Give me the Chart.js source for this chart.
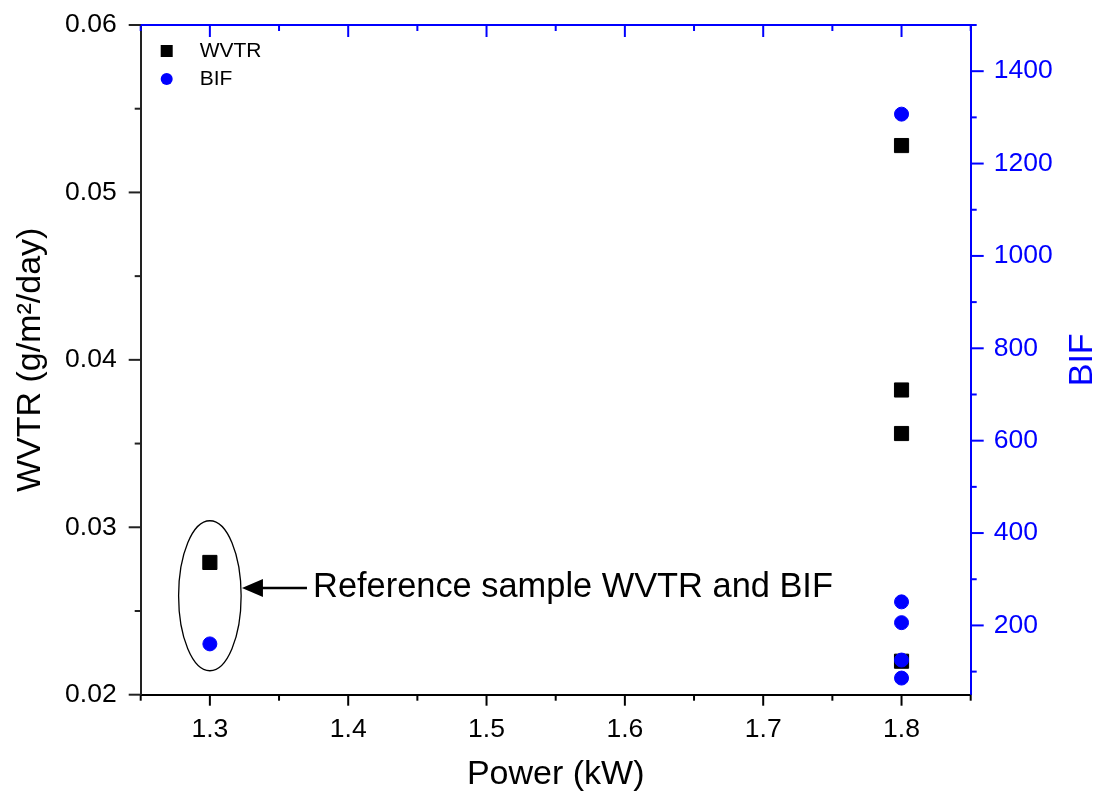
<!DOCTYPE html>
<html><head><meta charset="utf-8">
<script src="https://cdn.jsdelivr.net/npm/chart.js@4/dist/chart.umd.min.js"></script>
<style>html,body{margin:0;padding:0;background:#fff;overflow:hidden}#wrap{width:1094px;height:801px;position:relative}</style>
</head><body><div id="wrap"><canvas id="c" width="1094" height="801"></canvas></div>
<script>
// ---- data ----
const powerWVTR = [1.3, 1.8, 1.8, 1.8, 1.8];
const wvtrValues = [0.0279, 0.0528, 0.0382, 0.0356, 0.0220];
const powerBIF = [1.3, 1.8, 1.8, 1.8, 1.8, 1.8];
const bifValues = [160, 1307, 251, 206, 125, 86];
const xTicks = [1.3, 1.4, 1.5, 1.6, 1.7, 1.8];
const xMinorTicks = [1.25, 1.35, 1.45, 1.55, 1.65, 1.75, 1.85];
const wvtrTicks = [0.02, 0.03, 0.04, 0.05, 0.06];
const wvtrMinorTicks = [0.025, 0.035, 0.045, 0.055];
const bifTicks = [200, 400, 600, 800, 1000, 1200, 1400];
const bifMinorTicks = [100, 300, 500, 700, 900, 1100, 1300, 1500];
const xRange = [1.25, 1.85];
const wvtrRange = [0.02, 0.06];
const bifRange = [50, 1500];
const seriesLabels = ['WVTR', 'BIF'];
const axisTitles = {x: 'Power (kW)', y: 'WVTR (g/m²/day)', y2: 'BIF'};
const annotationText = 'Reference sample WVTR and BIF';
// annotation anchor in data units
const ellipseCenter = {x: 1.3, y: 0.02591};
const ellipseRadii = {x: 0.0226, y: 0.00448};
const arrowFrom = {x: 1.3702, y: 0.02637};
const arrowTo = {x: 1.3232, y: 0.02637};
const textAnchor = {x: 1.3746, y: 0.02584};

const FONT = '"Liberation Sans", Arial, Helvetica, sans-serif';
const BLUE = '#0000ff';
const DARK = '#222222';

const overlay = {
  id: 'overlay',
  afterDraw(chart) {
    const ctx = chart.ctx;
    const xs = chart.scales.x, ys = chart.scales.y, y2 = chart.scales.y2;
    const a = chart.chartArea;
    ctx.save();
    // top axis line
    ctx.strokeStyle = BLUE; ctx.lineWidth = 2;
    ctx.beginPath(); ctx.moveTo(a.left - 1, a.top); ctx.lineTo(a.right + 1, a.top); ctx.stroke();
    // tick marks
    const tick = (x1, y1, x2, y2_, col) => { ctx.strokeStyle = col; ctx.lineWidth = 2; ctx.beginPath(); ctx.moveTo(x1, y1); ctx.lineTo(x2, y2_); ctx.stroke(); };
    xTicks.forEach(v => { const p = xs.getPixelForValue(v); tick(p, a.bottom, p, a.bottom + 11, '#000'); tick(p, a.top, p, a.top + 12, BLUE); });
    xMinorTicks.forEach(v => { const p = xs.getPixelForValue(v); tick(p, a.bottom, p, a.bottom + 6, '#000'); tick(p, a.top, p, a.top + 6, BLUE); });
    wvtrTicks.forEach(v => { const p = ys.getPixelForValue(v); tick(a.left, p, a.left - 12, p, DARK); });
    wvtrMinorTicks.forEach(v => { const p = ys.getPixelForValue(v); tick(a.left, p, a.left - 6, p, DARK); });
    bifTicks.forEach(v => { const p = y2.getPixelForValue(v); tick(a.right, p, a.right + 13, p, BLUE); });
    bifMinorTicks.forEach(v => { const p = y2.getPixelForValue(v); tick(a.right, p, a.right + 6, p, BLUE); });

    // right axis title (reads bottom-to-top)
    ctx.save();
    ctx.fillStyle = BLUE; ctx.font = '34px ' + FONT;
    ctx.translate(a.right + 121, (a.top + a.bottom) / 2);
    ctx.rotate(-Math.PI / 2);
    ctx.textAlign = 'center'; ctx.textBaseline = 'alphabetic';
    ctx.fillText(axisTitles.y2, 0, 0);
    ctx.restore();

    // legend
    const ds = chart.data.datasets;
    ctx.font = '21px ' + FONT; ctx.textBaseline = 'middle'; ctx.textAlign = 'left';
    const lx = a.left + 26, ly = a.top + 26, gap = 28;
    ctx.fillStyle = ds[0].backgroundColor; ctx.fillRect(lx - 6, ly - 6, 12, 12);
    ctx.fillStyle = '#000'; ctx.fillText(ds[0].label, lx + 33, ly);
    ctx.fillStyle = ds[1].backgroundColor; ctx.beginPath(); ctx.arc(lx, ly + gap, 6, 0, Math.PI * 2); ctx.fill();
    ctx.fillStyle = '#000'; ctx.fillText(ds[1].label, lx + 33, ly + gap);

    // ellipse annotation
    const cx = xs.getPixelForValue(ellipseCenter.x), cy = ys.getPixelForValue(ellipseCenter.y);
    const rx = Math.abs(xs.getPixelForValue(ellipseCenter.x + ellipseRadii.x) - cx);
    const ry = Math.abs(ys.getPixelForValue(ellipseCenter.y + ellipseRadii.y) - cy);
    ctx.strokeStyle = '#000'; ctx.lineWidth = 1.3;
    ctx.beginPath(); ctx.ellipse(cx, cy, rx, ry, 0, 0, Math.PI * 2); ctx.stroke();
    // arrow
    const ax1 = xs.getPixelForValue(arrowFrom.x), ay1 = ys.getPixelForValue(arrowFrom.y);
    const ax2 = xs.getPixelForValue(arrowTo.x), ay2 = ys.getPixelForValue(arrowTo.y);
    ctx.lineWidth = 2.5;
    ctx.beginPath(); ctx.moveTo(ax1, ay1); ctx.lineTo(ax2 + 18, ay2); ctx.stroke();
    ctx.fillStyle = '#000';
    ctx.beginPath(); ctx.moveTo(ax2, ay2); ctx.lineTo(ax2 + 21, ay2 - 9); ctx.lineTo(ax2 + 21, ay2 + 9); ctx.closePath(); ctx.fill();
    // annotation text
    ctx.font = '34.4px ' + FONT; ctx.textBaseline = 'alphabetic'; ctx.textAlign = 'left';
    ctx.fillText(annotationText, xs.getPixelForValue(textAnchor.x), ys.getPixelForValue(textAnchor.y));
    ctx.restore();
  }
};

const noPad = s => { s.paddingTop = 0; s.paddingBottom = 0; s.paddingLeft = 0; s.paddingRight = 0; };

new Chart(document.getElementById('c'), {
  type: 'scatter',
  data: {
    datasets: [
      { label: seriesLabels[0], data: powerWVTR.map((x, i) => ({x, y: wvtrValues[i]})), yAxisID: 'y',
        pointStyle: 'rect', pointRadius: 10, borderWidth: 1, backgroundColor: '#000', borderColor: '#000', order: 2 },
      { label: seriesLabels[1], data: powerBIF.map((x, i) => ({x, y: bifValues[i]})), yAxisID: 'y2',
        pointStyle: 'circle', pointRadius: 7, borderWidth: 1, backgroundColor: BLUE, borderColor: BLUE, order: 1 }
    ]
  },
  options: {
    responsive: false, animation: false, devicePixelRatio: 1,
    layout: { padding: { top: 25, left: 0, right: 0, bottom: 0 } },
    plugins: { legend: { display: false }, tooltip: { enabled: false } },
    scales: {
      x: {
        type: 'linear', position: 'bottom', min: xRange[0], max: xRange[1],
        afterBuildTicks: s => { s.ticks = xTicks.map(v => ({value: v})); },
        afterFit: s => { s.height = 106.3; noPad(s); },
        grid: { display: true, drawOnChartArea: false, drawTicks: false, color: 'rgba(0,0,0,0)' },
        border: { display: true, color: '#000', width: 2 },
        ticks: { color: '#000', font: { family: FONT, size: 26.5 }, padding: 19, maxRotation: 0, autoSkip: false, callback: v => Number(v).toFixed(1) },
        title: { display: true, text: axisTitles.x, color: '#000', font: { family: FONT, size: 34 }, padding: { top: 0, bottom: 6 } }
      },
      y: {
        type: 'linear', position: 'left', min: wvtrRange[0], max: wvtrRange[1],
        afterBuildTicks: s => { s.ticks = wvtrTicks.map(v => ({value: v})); },
        afterFit: s => { s.width = 140.7; noPad(s); },
        grid: { display: true, drawOnChartArea: false, drawTicks: false, color: 'rgba(0,0,0,0)' },
        border: { display: true, color: DARK, width: 2 },
        ticks: { color: '#000', font: { family: FONT, size: 26.5 }, padding: 24, autoSkip: false, callback: v => Number(v).toFixed(2) },
        title: { display: true, text: axisTitles.y, color: '#000', font: { family: FONT, size: 34 }, padding: { top: 10, bottom: 0 } }
      },
      y2: {
        type: 'linear', position: 'right', min: bifRange[0], max: bifRange[1],
        afterBuildTicks: s => { s.ticks = bifTicks.map(v => ({value: v})); },
        afterFit: s => { s.width = 123.3; noPad(s); },
        grid: { display: true, drawOnChartArea: false, drawTicks: false, color: 'rgba(0,0,0,0)' },
        border: { display: true, color: BLUE, width: 2 },
        ticks: { color: BLUE, font: { family: FONT, size: 26.5 }, padding: 23, autoSkip: false, callback: v => String(v) },
        title: { display: false }
      }
    }
  },
  plugins: [overlay]
});
</script></body></html>
